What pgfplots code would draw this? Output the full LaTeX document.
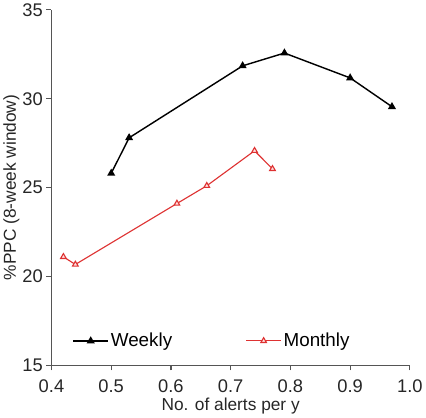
\documentclass[border=0pt]{standalone}
\usepackage{pgfplots}
\pgfplotsset{compat=1.18}
\usepackage{fontspec}
\setmainfont{Liberation Sans}
\definecolor{axisgray}{RGB}{85,85,85}
\definecolor{monthlyred}{RGB}{222,50,50}
\begin{document}
\begin{tikzpicture}
\begin{axis}[
  scale only axis,
  width=351bp, height=348bp,
  xmin=0.4, xmax=1.0, ymin=15, ymax=35,
  xtick={0.4,0.5,...,1.0},
  ytick={15,20,25,30,35},
  x tick label style={yshift=-6bp},
  xticklabel={\pgfmathprintnumber[fixed,fixed zerofill,precision=1]{\tick}},
  /pgf/number format/assume math mode=true,
  axis x line*=bottom, axis y line*=left,
  axis line style={axisgray, line width=1.1pt, -},
  tick style={axisgray, line width=1.1pt},
  tick align=outside, major tick length=5bp,
  font=\fontsize{18}{21}\selectfont,
  tick label style={font=\fontsize{18}{21}\selectfont, text=black!85},
  xlabel={No. of alerts per y},
  ylabel={\%PPC (8-week window)},
  label style={font=\fontsize{17}{20}\selectfont, text=black!85},
  xlabel style={yshift=2bp},
  ylabel style={yshift=-4bp},
  legend style={draw=none, fill=none, at={(0.05,0.035)}, anchor=south west,
    legend columns=2, font=\fontsize{18.5}{21}\selectfont,
    nodes={inner xsep=2bp},
    /tikz/every even column/.append style={column sep=70bp}},
  legend image code/.code={
    \draw[#1, mark repeat=2, mark phase=2] plot coordinates {(0cm,0cm) (0.6cm,0cm) (1.2cm,0cm)};},
  clip=false,
]
\addplot[black, line width=1.4pt, mark=triangle*, mark size=3.2pt,
  mark options={solid, fill=black}]
  coordinates {(0.50,25.8) (0.53,27.8) (0.72,31.85) (0.79,32.57) (0.90,31.17) (0.97,29.55)};
\addlegendentry{Weekly}
\addplot[monthlyred, line width=1.1pt, mark=triangle*, mark size=3.2pt,
  mark options={solid, fill=red!12, draw=monthlyred}]
  coordinates {(0.42,21.1) (0.44,20.67) (0.61,24.1) (0.66,25.1) (0.74,27.07) (0.77,26.05)};
\addlegendentry{Monthly}
\end{axis}
\end{tikzpicture}
\end{document}
